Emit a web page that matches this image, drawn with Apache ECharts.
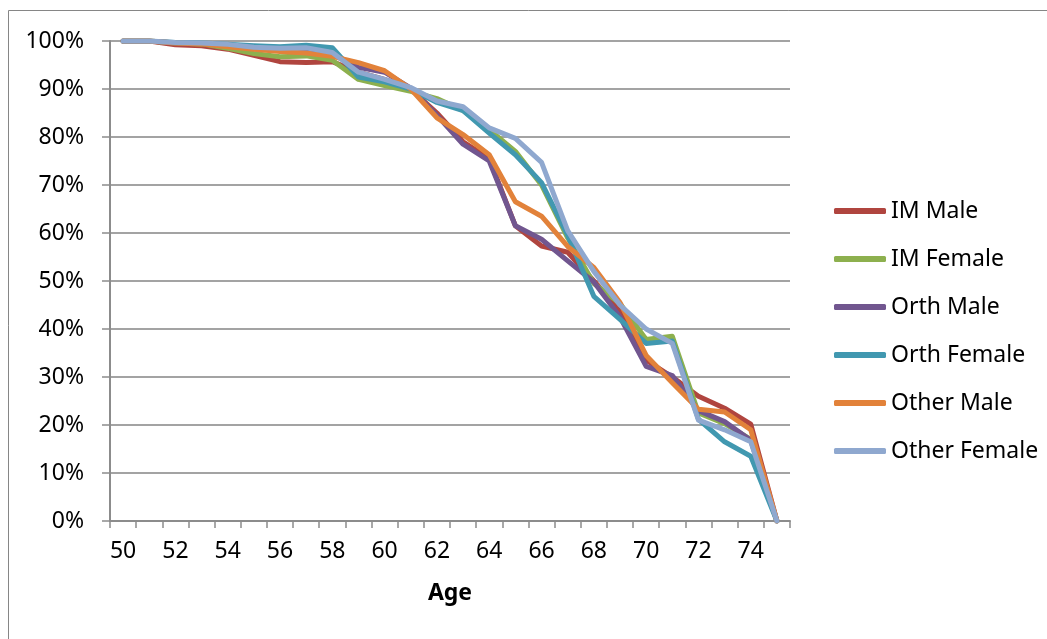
<!DOCTYPE html>
<html>
<head>
<meta charset="utf-8">
<script src="https://cdn.jsdelivr.net/npm/echarts@6/dist/echarts.min.js"></script>
<style>html,body{margin:0;padding:0;background:#fff;}#c{width:1047px;height:639px;}</style>
</head>
<body>
<div id="c"></div>
<script>
const ages = ['50','51','52','53','54','55','56','57','58','59','60','61','62','63','64','65','66','67','68','69','70','71','72','73','74','75'];
const seriesNames = ['IM Male','IM Female','Orth Male','Orth Female','Other Male','Other Female'];
const colors = ['#B0453F','#8DB04E','#71568F','#4198B0','#E2823A','#8FA8CF'];
const imMale      = [100,100,99.2,99,98.3,97,95.7,95.5,95.7,93.5,92,90,85,79,75.5,61.5,57.3,56,50,44,33.5,30,26,23.5,20.2,0];
const imFemale    = [100,100,99.6,99.4,98.5,97.4,96.7,96.9,96,92,90.7,89.5,88,85.5,81.5,77,70,59,49.5,45.3,37.8,38.5,22.5,20.3,17,0];
const orthMale    = [100,100,99.6,99.5,99,98.5,98.2,97.8,97.3,94.5,93.5,90.2,84.5,78.5,75,61.5,58.7,54.2,49.8,42.5,32.2,30.3,23,20.7,16.8,0];
const orthFemale  = [100,100,99.7,99.6,99.3,99,98.8,99.1,98.6,92.5,91.5,90,87.2,85.5,80.8,76.3,70.5,59.5,46.8,42,37,37.5,21.2,16.5,13.5,0];
const otherMale   = [100,100,99.6,99.4,98.8,98.3,97.8,97.5,96.8,95.5,93.8,90,84,80.5,76.3,66.5,63.5,57.2,52.8,45.5,34.5,28.8,23.3,22.7,19,0];
const otherFemale = [100,100,99.7,99.6,99.3,98.7,98.5,98.6,97.6,93.5,92,90.3,87.5,86.3,81.9,79.7,74.7,60.5,52,45,40,37,21,19,16.5,0];
const yTicks = [0,10,20,30,40,50,60,70,80,90,100];
const allData = [imMale, imFemale, orthMale, orthFemale, otherMale, otherFemale];

const FONT = '"Noto Sans", "Open Sans", sans-serif';
const chart = echarts.init(document.getElementById('c'), null, {renderer: 'canvas'});
chart.setOption({
  animation: false,
  backgroundColor: '#fff',
  textStyle: {fontFamily: FONT},
  graphic: [{
    type: 'rect', silent: true, z: -1,
    shape: {x: 8.5, y: 10.5, width: 2000, height: 2000},
    style: {fill: 'none', stroke: '#868686', lineWidth: 1}
  }],
  grid: {left: 110, right: 257, top: 41, bottom: 118, containLabel: false},
  legend: {
    orient: 'vertical',
    left: 829, top: 193,
    itemWidth: 52, itemHeight: 6,
    itemGap: 22,
    icon: 'roundRect',
    textStyle: {fontFamily: FONT, fontSize: 23, color: '#000', lineHeight: 26, padding: [0,0,0,0]},
    data: seriesNames
  },
  xAxis: {
    type: 'category',
    data: ages,
    boundaryGap: true,
    name: 'Age',
    nameLocation: 'middle',
    nameGap: 61,
    nameTextStyle: {fontFamily: FONT, fontSize: 23, fontWeight: 'bold', color: '#000'},
    axisLine: {lineStyle: {color: '#8c8c8c', width: 2}},
    axisTick: {show: true, interval: 0, length: 7, lineStyle: {color: '#8c8c8c', width: 1.5}},
    axisLabel: {interval: 1, fontFamily: FONT, fontSize: 23, color: '#000', margin: 19},
    splitLine: {show: false}
  },
  yAxis: {
    type: 'value',
    min: 0, max: 100, interval: 10,
    axisLine: {show: true, lineStyle: {color: '#8c8c8c', width: 2}},
    axisTick: {show: true, length: 8, lineStyle: {color: '#8c8c8c', width: 1.5}},
    axisLabel: {fontFamily: FONT, fontSize: 23, color: '#000', margin: 26,
      formatter: function (v) { return yTicks.indexOf(v) >= 0 ? v + '%' : ''; }},
    splitLine: {show: true, lineStyle: {color: '#a3a3a3', width: 2}}
  },
  series: seriesNames.map(function (n, i) {
    return {
      name: n, type: 'line', data: allData[i],
      showSymbol: false, symbol: 'none', smooth: false,
      color: colors[i],
      lineStyle: {color: colors[i], width: 5, join: 'round', cap: 'round'},
      itemStyle: {color: colors[i]},
      z: 2 + i
    };
  })
});
</script>
</body>
</html>
